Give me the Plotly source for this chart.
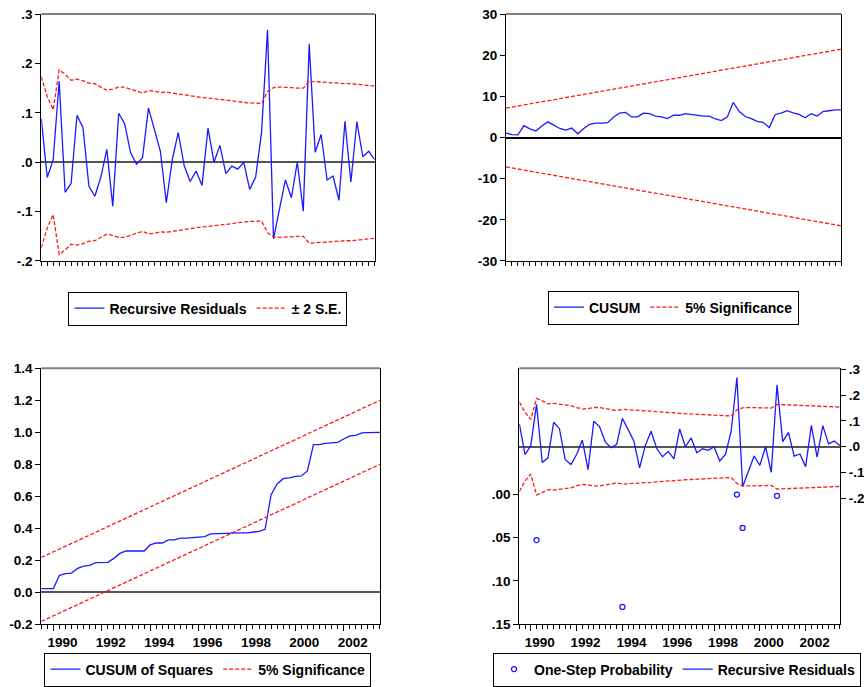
import plotly.graph_objects as go
import pandas as pd

# ---------------- data (quarterly, 1989Q3 - 2003Q3) ----------------
periods = pd.period_range("1989Q3", "2003Q3", freq="Q")
t = [p.year + (p.quarter - 1) / 4 for p in periods]

rec_resid = [0.088, -0.031, 0.005, 0.164, -0.061, -0.043, 0.095, 0.070, -0.049, -0.069,
             -0.030, 0.026, -0.089, 0.099, 0.078, 0.019, -0.004, 0.009, 0.110, 0.063,
             0.022, -0.082, 0.005, 0.060, -0.007, -0.039, -0.018, -0.047, 0.069, 0.000,
             0.034, -0.023, -0.008, -0.014, 0.000, -0.055, -0.030, 0.061, 0.268, -0.155,
             -0.096, -0.036, -0.072, 0.000, -0.099, 0.239, 0.020, 0.056, -0.036, -0.028,
             -0.077, 0.083, -0.040, 0.082, 0.011, 0.022, 0.005]

two_se = [0.173, 0.133, 0.106, 0.187, 0.178, 0.166, 0.168, 0.165, 0.160, 0.159,
          0.152, 0.146, 0.148, 0.152, 0.152, 0.148, 0.144, 0.140, 0.145, 0.144,
          0.141, 0.142, 0.140, 0.138, 0.136, 0.134, 0.132, 0.131, 0.130, 0.128,
          0.127, 0.126, 0.124, 0.123, 0.121, 0.120, 0.119, 0.119, 0.143, 0.151,
          0.152, 0.152, 0.151, 0.150, 0.150, 0.164, 0.163, 0.162, 0.161, 0.160,
          0.159, 0.159, 0.159, 0.158, 0.157, 0.156, 0.154]
two_se_lower = [-v for v in two_se]

cusum = [1.1, 0.7, 0.65, 2.9, 2.1, 1.6, 2.8, 3.8, 3.0, 2.2,
         1.8, 2.3, 0.9, 2.2, 3.2, 3.5, 3.5, 3.6, 5.0, 5.9,
         6.1, 5.0, 5.0, 5.9, 5.8, 5.2, 5.0, 4.6, 5.4, 5.4,
         5.8, 5.6, 5.4, 5.2, 5.2, 4.5, 4.1, 5.0, 8.5, 6.3,
         5.1, 4.6, 3.9, 3.7, 2.4, 5.6, 5.9, 6.5, 6.0, 5.6,
         4.8, 5.8, 5.2, 6.3, 6.5, 6.7, 6.7]
cusum_upper_ends = [7.15, 21.45]
cusum_lower_ends = [-7.15, -21.45]

cusumsq = [0.023, 0.023, 0.023, 0.106, 0.116, 0.120, 0.150, 0.164, 0.168, 0.185,
           0.187, 0.187, 0.212, 0.243, 0.258, 0.258, 0.258, 0.258, 0.296, 0.308,
           0.308, 0.327, 0.327, 0.339, 0.339, 0.341, 0.343, 0.348, 0.365, 0.367,
           0.367, 0.367, 0.369, 0.371, 0.371, 0.375, 0.381, 0.394, 0.610, 0.677,
           0.710, 0.715, 0.725, 0.727, 0.758, 0.923, 0.923, 0.931, 0.933, 0.937,
           0.958, 0.977, 0.981, 0.996, 0.998, 1.000, 1.000]
cusumsq_upper_ends = [0.2175, 1.2]
cusumsq_lower_ends = [-0.1825, 0.8]

prob_periods = ["1990Q2", "1994Q1", "1999Q1", "1999Q2", "2000Q4"]
prob_values = [0.053, 0.130, 0.0005, 0.039, 0.002]
prob_t = [pd.Period(p, freq="Q").year + (pd.Period(p, freq="Q").quarter - 1) / 4 for p in prob_periods]

year_ticks = list(range(1990, 2004))
year_text = [str(y) if y % 2 == 0 else "" for y in year_ticks]

end_t = [t[0], t[-1]]

# ---------------- styling ----------------
BLUE = "#1a1aff"
RED = "#ff1a1a"
DASH = "4px,2px"
FONT = "Liberation Sans, Arial, sans-serif"

fig = go.Figure()

# --- top-left: recursive residuals
fig.add_trace(go.Scatter(x=t, y=rec_resid, mode="lines", line=dict(color=BLUE, width=1.3),
                         name="Recursive Residuals", xaxis="x", yaxis="y", legend="legend"))
fig.add_trace(go.Scatter(x=t, y=two_se, mode="lines", line=dict(color=RED, width=1.3, dash=DASH),
                         name="± 2 S.E.", xaxis="x", yaxis="y", legend="legend"))
fig.add_trace(go.Scatter(x=t, y=two_se_lower, mode="lines", line=dict(color=RED, width=1.3, dash=DASH),
                         name="± 2 S.E.", showlegend=False, xaxis="x", yaxis="y"))

# --- top-right: CUSUM
fig.add_trace(go.Scatter(x=t, y=cusum, mode="lines", line=dict(color=BLUE, width=1.3),
                         name="CUSUM", xaxis="x2", yaxis="y2", legend="legend2"))
fig.add_trace(go.Scatter(x=end_t, y=cusum_upper_ends, mode="lines", line=dict(color=RED, width=1.3, dash=DASH),
                         name="5% Significance", xaxis="x2", yaxis="y2", legend="legend2"))
fig.add_trace(go.Scatter(x=end_t, y=cusum_lower_ends, mode="lines", line=dict(color=RED, width=1.3, dash=DASH),
                         showlegend=False, xaxis="x2", yaxis="y2"))

# --- bottom-left: CUSUM of squares
fig.add_trace(go.Scatter(x=t, y=cusumsq, mode="lines", line=dict(color=BLUE, width=1.3),
                         name="CUSUM of Squares", xaxis="x3", yaxis="y3", legend="legend3"))
fig.add_trace(go.Scatter(x=end_t, y=cusumsq_upper_ends, mode="lines", line=dict(color=RED, width=1.3, dash=DASH),
                         name="5% Significance", xaxis="x3", yaxis="y3", legend="legend3"))
fig.add_trace(go.Scatter(x=end_t, y=cusumsq_lower_ends, mode="lines", line=dict(color=RED, width=1.3, dash=DASH),
                         showlegend=False, xaxis="x3", yaxis="y3"))

# --- bottom-right: one-step probability + recursive residuals
fig.add_trace(go.Scatter(x=prob_t, y=prob_values, mode="markers",
                         marker=dict(symbol="circle-open", color=BLUE, size=5, line=dict(width=1.3)),
                         name="One-Step Probability", xaxis="x4", yaxis="y4", legend="legend4"))
fig.add_trace(go.Scatter(x=t, y=rec_resid, mode="lines", line=dict(color=BLUE, width=1.3),
                         name="Recursive Residuals", xaxis="x4", yaxis="y5", legend="legend4"))
fig.add_trace(go.Scatter(x=t, y=two_se, mode="lines", line=dict(color=RED, width=1.3, dash=DASH),
                         showlegend=False, xaxis="x4", yaxis="y5"))
fig.add_trace(go.Scatter(x=t, y=two_se_lower, mode="lines", line=dict(color=RED, width=1.3, dash=DASH),
                         showlegend=False, xaxis="x4", yaxis="y5"))

tickfont = dict(family=FONT, size=13.5, color="black", weight="bold")


def xaxis_cfg(domain, anchor, labels):
    return dict(domain=domain, anchor=anchor, range=[t[0], t[-1]], automargin=False,
                tickvals=year_ticks, ticktext=year_text if labels else [""] * len(year_ticks),
                ticks="outside", ticklen=6, tickwidth=1, tickcolor="black",
                minor=dict(tickvals=t, ticks="outside", ticklen=4, tickwidth=1, tickcolor="black"),
                ticklabelshift=9, tickfont=tickfont,
                showline=True, linecolor="black", linewidth=1, showgrid=False, zeroline=False)


def yaxis_cfg(domain, anchor, rng, vals, text, zc="#555555", zw=2, mirror=True):
    return dict(domain=domain, anchor=anchor, range=rng, tickvals=vals, ticktext=text,
                automargin=False,
                ticks="outside", ticklen=5, tickwidth=1, tickcolor="black", tickfont=tickfont,
                showline=True, linecolor="black", linewidth=1, mirror=mirror, showgrid=False,
                zeroline=True, zerolinecolor=zc, zerolinewidth=zw)


TOP = [0.6201, 0.9796]
BOT = [0.0913, 0.4639]

legend_common = dict(orientation="h", xanchor="center", yanchor="middle",
                     xref="container", yref="container",
                     bordercolor="black", borderwidth=1, bgcolor="white",
                     font=dict(family=FONT, size=14, color="black", weight="bold"),
                     itemwidth=30, tracegroupgap=0)

fig.update_layout(
    width=864, height=687, autosize=False,
    margin=dict(l=0, r=0, t=0, b=0, autoexpand=False),
    paper_bgcolor="white", plot_bgcolor="white",
    font=dict(family=FONT, color="black"),
    xaxis=xaxis_cfg([0.0478, 0.4337], "y", False),
    yaxis=yaxis_cfg(TOP, "x", [-0.2, 0.3], [0.3, 0.2, 0.1, 0.0, -0.1, -0.2],
                    [".3", ".2", ".1", ".0", "-.1", "-.2"]),
    xaxis2=xaxis_cfg([0.5856, 0.9734], "y2", False),
    yaxis2=yaxis_cfg(TOP, "x2", [-30, 30], [30, 20, 10, 0, -10, -20, -30],
                     ["30", "20", "10", "0", "-10", "-20", "-30"], zc="black", zw=1.5),
    xaxis3=xaxis_cfg([0.0478, 0.4398], "y3", True),
    yaxis3=yaxis_cfg(BOT, "x3", [-0.2, 1.4], [1.4, 1.2, 1.0, 0.8, 0.6, 0.4, 0.2, 0.0, -0.2],
                     ["1.4", "1.2", "1.0", "0.8", "0.6", "0.4", "0.2", "0.0", "-0.2"]),
    xaxis4=xaxis_cfg([0.6011, 0.9722], "y4", True),
    yaxis4=dict(domain=BOT, anchor="x4", range=[0.15, -0.145], automargin=False,
                tickvals=[0.0, 0.05, 0.10, 0.15], ticktext=[".00", ".05", ".10", ".15"],
                ticks="outside", ticklen=5, tickwidth=1, tickcolor="black", tickfont=tickfont,
                showline=True, linecolor="black", linewidth=1, showgrid=False, zeroline=False),
    yaxis5=yaxis_cfg(BOT, "x4", [-0.688, 0.304], [0.3, 0.2, 0.1, 0.0, -0.1, -0.2],
                     [".3", ".2", ".1", ".0", "-.1", "-.2"], mirror=False),
    legend=dict(legend_common, x=0.2407, y=1 - 308.5 / 687),
    legend2=dict(legend_common, x=0.7795, y=1 - 307.5 / 687),
    legend3=dict(legend_common, x=0.2407, y=1 - 669.5 / 687),
    legend4=dict(legend_common, x=0.7836, y=1 - 669.5 / 687),
    showlegend=True,
)
fig.layout.yaxis5.update(overlaying="y4", side="right")

# gray top frame lines for each panel
for xr, yr in [("x", "y"), ("x2", "y2"), ("x3", "y3"), ("x4", "y4")]:
    fig.add_shape(type="line", xref=f"{xr} domain", yref=f"{yr} domain",
                  x0=0, x1=1, y0=1, y1=1, line=dict(color="#808080", width=2), layer="above")

fig.write_html("out.html")
